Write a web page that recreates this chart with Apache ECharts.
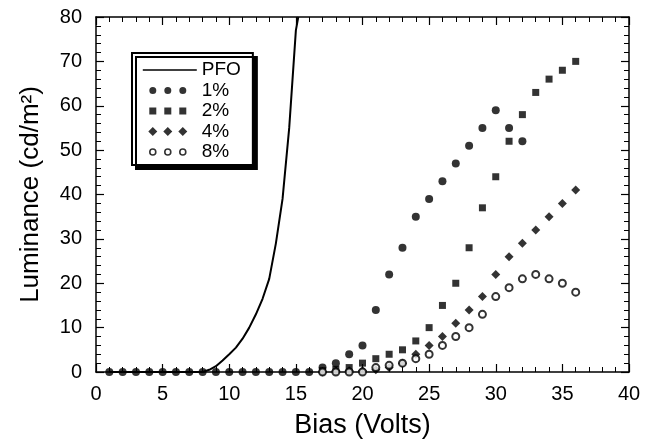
<!DOCTYPE html>
<html><head><meta charset="utf-8">
<script src="https://cdn.jsdelivr.net/npm/echarts@6/dist/echarts.min.js"></script>
<style>html,body{margin:0;padding:0;background:#fff}#c{width:654px;height:444px}</style>
</head><body><div id="c"></div>
<script>
// ---- data ----
const seriesNames = ['PFO', '1%', '2%', '4%', '8%'];
const xTicks = [0, 5, 10, 15, 20, 25, 30, 35, 40];
const yTicks = [0, 10, 20, 30, 40, 50, 60, 70, 80];

const pfoBias = [1, 2, 3, 4, 5, 6, 7, 8, 8.5, 9, 9.5, 10, 10.5, 11, 11.5, 12, 12.5, 13, 13.5, 14, 14.5, 15, 15.18];
const pfoLum  = [0, 0, 0, 0, 0, 0, 0, 0, 0.5, 1.3, 2.6, 4, 5.5, 7.5, 10, 13, 16.5, 21, 29, 39, 55, 77, 80];

const bias1 = [1, 2, 3, 4, 5, 6, 7, 8, 9, 10, 11, 12, 13, 14, 15, 16, 17, 18, 19, 20, 21, 22, 23, 24, 25, 26, 27, 28, 29, 30, 31, 32];
const lum1  = [0, 0, 0, 0, 0, 0, 0, 0, 0, 0, 0, 0, 0, 0, 0, 0, 1, 2, 4, 6, 14, 22, 28, 35, 39, 43, 47, 51, 55, 59, 55, 52];

const bias2 = [17, 18, 19, 20, 21, 22, 23, 24, 25, 26, 27, 28, 29, 30, 31, 32, 33, 34, 35, 36];
const lum2  = [0.3, 0.6, 1, 2, 3, 4, 5, 7, 10, 15, 20, 28, 37, 44, 52, 58, 63, 66, 68, 70];

const bias4 = [17, 18, 19, 20, 21, 22, 23, 24, 25, 26, 27, 28, 29, 30, 31, 32, 33, 34, 35, 36];
const lum4  = [0, 0.2, 0.3, 0.3, 0.5, 1, 2, 4, 6, 8, 11, 14, 17, 22, 26, 29, 32, 35, 38, 41];

const bias8 = [17, 18, 19, 20, 21, 22, 23, 24, 25, 26, 27, 28, 29, 30, 31, 32, 33, 34, 35, 36];
const lum8  = [0, 0, 0, 0, 1, 1.5, 2, 3, 4, 6, 8, 10, 13, 17, 19, 21, 22, 21, 20, 18];

// ---- build ----
const pairs = (xs, ys) => xs.map((x, i) => [x, ys[i]]);
const FONT = "'Liberation Sans', Arial, Helvetica, sans-serif";
const black = '#000';

const circ = cx => `M${cx - 3.5},4a3.5,3.5 0 1,0 7,0a3.5,3.5 0 1,0 -7,0z`;
const ocirc = cx => `M${cx - 3},4a3,3 0 1,0 6,0a3,3 0 1,0 -6,0z`;
const sq = cx => `M${cx - 3.5},0.5h7v7h-7z`;
const dia = cx => `M${cx},-0.5l4.5,4.5l-4.5,4.5l-4.5,-4.5z`;
const box = 'M0,-0.5M54,8.5';
const icons = {
  'PFO': 'path://' + box + 'M0,3.2h54v1.6h-54z',
  '1%': 'path://' + box + circ(10) + circ(25) + circ(40),
  '2%': 'path://' + box + sq(10) + sq(25) + sq(40),
  '4%': 'path://' + box + dia(10) + dia(25) + dia(40),
  '8%': 'path://' + box + ocirc(10) + ocirc(25) + ocirc(40)
};

const axisLineStyle = { color: black, width: 1.5 };
function xAx(pos, showLabel) {
  return {
    type: 'value', position: pos, min: xTicks[0], max: xTicks[xTicks.length - 1], interval: 5,
    axisLine: { show: true, onZero: false, lineStyle: axisLineStyle },
    axisTick: { show: true, inside: true, length: 8, lineStyle: { color: black, width: 1.2 } },
    minorTick: { show: true, splitNumber: 5, length: 5, lineStyle: { color: black, width: 1 } },
    splitLine: { show: false },
    axisLabel: { show: showLabel, fontSize: 20, color: black, margin: 12, fontFamily: FONT },
    name: showLabel ? 'Bias (Volts)' : '', nameLocation: 'middle', nameGap: 40,
    nameTextStyle: { fontSize: 27, color: black, fontFamily: FONT }
  };
}
function yAx(pos, showLabel) {
  return {
    type: 'value', position: pos, min: yTicks[0], max: yTicks[yTicks.length - 1], interval: 10,
    axisLine: { show: true, onZero: false, lineStyle: axisLineStyle },
    axisTick: { show: true, inside: true, length: 8, lineStyle: { color: black, width: 1.2 } },
    minorTick: { show: true, splitNumber: 5, length: 5, lineStyle: { color: black, width: 1 } },
    splitLine: { show: false },
    axisLabel: { show: showLabel, fontSize: 20, color: black, margin: 14, fontFamily: FONT },
    name: showLabel ? 'Luminance (cd/m²)' : '', nameLocation: 'middle', nameGap: 52,
    nameTextStyle: { fontSize: 26, color: black, fontFamily: FONT }
  };
}

const scatterBase = { type: 'scatter', xAxisIndex: 0, yAxisIndex: 0, silent: true, z: 3 };
const option = {
  animation: false,
  backgroundColor: '#fff',
  grid: { left: 96, right: 25, top: 17, bottom: 63 },
  xAxis: [xAx('bottom', true), xAx('top', false)],
  yAxis: [yAx('left', true), yAx('right', false)],
  legend: {
    orient: 'vertical', left: 132, top: 53,
    padding: [7, 12, 3, 10], itemGap: 0.5, itemWidth: 54, itemHeight: 9,
    backgroundColor: '#fff', borderColor: black, borderWidth: 2, borderRadius: 0,
    shadowColor: black, shadowOffsetX: 4, shadowOffsetY: 4, shadowBlur: 0,
    selectedMode: false,
    textStyle: { fontFamily: FONT, fontSize: 19, color: black, lineHeight: 20 },
    data: seriesNames.map(n => ({
      name: n, icon: icons[n],
      itemStyle: n === '8%' ? { color: '#fff', borderColor: black, borderWidth: 1.6 } : { color: black, borderWidth: 0 }
    }))
  },
  series: [
    { name: seriesNames[0], type: 'line', data: pairs(pfoBias, pfoLum), showSymbol: false, symbol: 'none',
      lineStyle: { color: black, width: 2 }, itemStyle: { color: black }, silent: true, z: 2, clip: true },
    Object.assign({}, scatterBase, { name: seriesNames[1], data: pairs(bias1, lum1), symbol: 'circle', symbolSize: 8, itemStyle: { color: black } }),
    Object.assign({}, scatterBase, { name: seriesNames[2], data: pairs(bias2, lum2), symbol: 'rect', symbolSize: 7, itemStyle: { color: black } }),
    Object.assign({}, scatterBase, { name: seriesNames[3], data: pairs(bias4, lum4), symbol: 'diamond', symbolSize: 9, itemStyle: { color: black } }),
    Object.assign({}, scatterBase, { name: seriesNames[4], data: pairs(bias8, lum8), symbol: 'circle', symbolSize: 7,
      itemStyle: { color: '#fff', borderColor: black, borderWidth: 2 } })
  ]
};
const chart = echarts.init(document.getElementById('c'), null, { renderer: 'canvas' });
chart.setOption(option);
</script>
</body></html>
